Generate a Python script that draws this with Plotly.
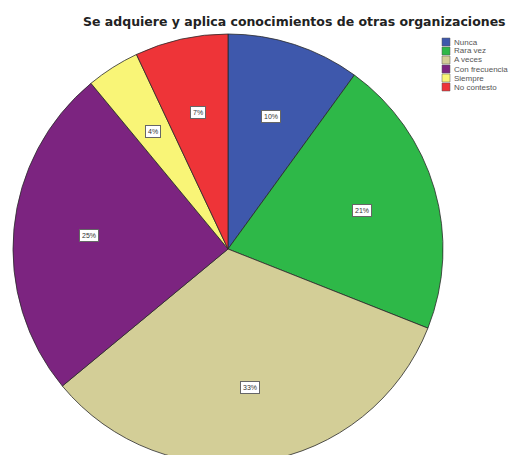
import math
import plotly.graph_objects as go

# Response categories and their share of answers (%)
categories = ["Nunca", "Rara vez", "A veces", "Con frecuencia", "Siempre", "No contesto"]
percent = [10, 21, 33, 25, 4, 7]
colors = ["#3E58AC", "#2EB848", "#D3CE97", "#7C2480", "#F9F577", "#EE3438"]
title_text = "Se adquiere y aplica conocimientos de otras organizaciones"

W, H = 529, 470
# pie geometry in pixels
cx, cy, R = 228, 249, 215

fig = go.Figure()
fig.add_trace(go.Pie(
    labels=categories,
    values=percent,
    marker=dict(colors=colors, line=dict(color="#2a2a2a", width=0.8)),
    sort=False,
    direction="clockwise",
    rotation=0,
    textinfo="none",
    hoverinfo="label+percent",
    domain=dict(x=[(cx - R) / W, (cx + R) / W], y=[1 - (cy + R) / H, 1 - (cy - R) / H]),
    showlegend=False,
))

annotations = []
shapes = []

# boxed percentage labels placed at the middle angle of each slice
total = sum(percent)
start = 0.0
for v in percent:
    span = 360.0 * v / total
    mid = math.radians(start + span / 2)
    start += span
    r = 0.65 * R
    px = cx + r * math.sin(mid)
    py = cy - r * math.cos(mid)
    annotations.append(dict(
        x=px / W, y=1 - py / H, xref="paper", yref="paper",
        xanchor="center", yanchor="middle",
        text=f"{v}%", showarrow=False,
        font=dict(family="Liberation Sans, Arial", size=7, color="#333"),
        bgcolor="white", bordercolor="#666", borderwidth=1, borderpad=2,
    ))

# title
annotations.append(dict(
    x=294.5 / W, y=1 - 22 / H, xref="paper", yref="paper",
    xanchor="center", yanchor="middle",
    text=f"<b>{title_text}</b>", showarrow=False,
    font=dict(family="DejaVu Sans", size=12.5, color="#222"),
))

# compact legend: swatch + label per category
lx, ly0, step, sw = 442, 42, 9, 8
for i, (name, col) in enumerate(zip(categories, colors)):
    yc = ly0 + i * step
    shapes.append(dict(
        type="rect", xref="paper", yref="paper",
        x0=lx / W, x1=(lx + sw) / W,
        y0=1 - (yc + sw / 2) / H, y1=1 - (yc - sw / 2) / H,
        fillcolor=col, line=dict(color="#555", width=0.5),
    ))
    annotations.append(dict(
        x=(lx + sw + 2) / W, y=1 - yc / H, xref="paper", yref="paper",
        xanchor="left", yanchor="middle",
        text=name, showarrow=False,
        font=dict(family="Liberation Sans, Arial", size=8, color="#555"),
    ))

fig.update_layout(
    width=W, height=H,
    margin=dict(l=0, r=0, t=0, b=0, pad=0),
    paper_bgcolor="white", plot_bgcolor="white",
    annotations=annotations, shapes=shapes,
)

fig.write_html(
    "out.html",
    post_script="document.documentElement.style.overflow='hidden';document.body.style.overflow='hidden';document.body.style.margin='0';",
)
